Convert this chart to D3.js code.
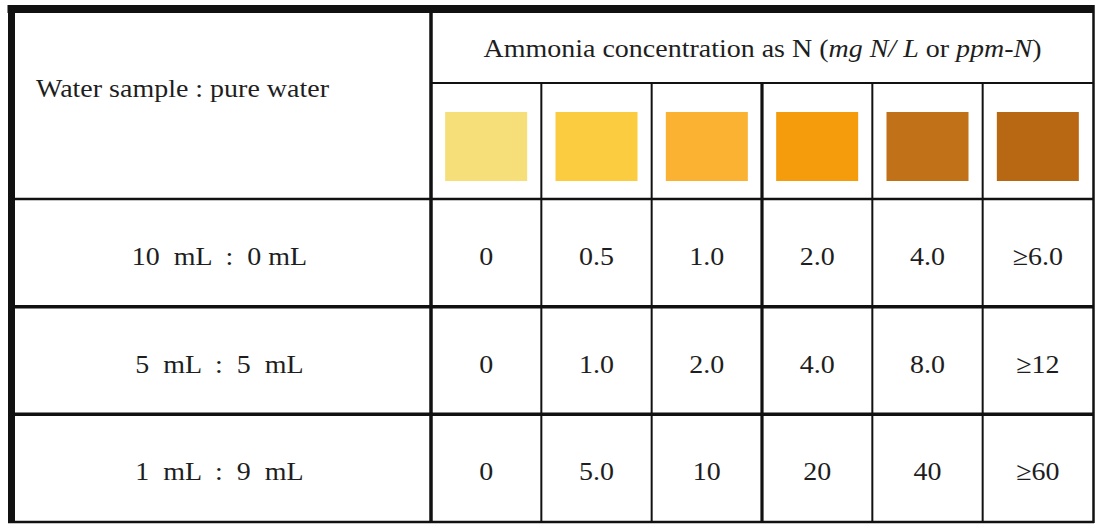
<!DOCTYPE html>
<html>
<head>
<meta charset="utf-8">
<script src="https://cdn.jsdelivr.net/npm/d3@7"></script>
<style>
  html, body { margin: 0; padding: 0; background: #fff; }
  svg { display: block; }
  text { font-family: "Liberation Serif", "Times New Roman", serif; fill: #1e1e1e; white-space: pre; }
</style>
</head>
<body>
<div id="chart"></div>
<script>
// ---- data ----
const cornerLabel = "Water sample : pure water";
const headerParts = [
  { t: "Ammonia concentration as N (", i: false },
  { t: "mg N/ L", i: true },
  { t: " or ", i: false },
  { t: "ppm-N", i: true },
  { t: ")", i: false }
];
const swatchColors = ["#F6DE78", "#FBCB40", "#FBB232", "#F49C0C", "#C17117", "#B86812"];
const sampleRatios = ["10  mL  :  0 mL", "5  mL  :  5  mL", "1  mL  :  9  mL"];
const row1Values = ["0", "0.5", "1.0", "2.0", "4.0", "\u22656.0"];
const row2Values = ["0", "1.0", "2.0", "4.0", "8.0", "\u226512"];
const row3Values = ["0", "5.0", "10", "20", "40", "\u226560"];
const rowValues = [row1Values, row2Values, row3Values];

// ---- layout ----
const W = 1095, H = 524;
const gLeft = 8, gRight = 1094, gTop = 5, gBottom = 523;
const splitX = 431;          // boundary between label column and value columns
const headerY = 83, swatchRowY = 199;
const fs = 26, sx = 1.077;   // font size and horizontal stretch of the source image

const svg = d3.select("#chart").append("svg").attr("width", W).attr("height", H);

const x = d3.scaleBand().domain(d3.range(swatchColors.length)).range([splitX, gRight - 1]);
const y = d3.scaleBand().domain(d3.range(sampleRatios.length)).range([swatchRowY, gBottom - 1]);

// swatches
const swY = d3.scaleLinear().domain([0, 1]).range([headerY, swatchRowY]);
svg.append("g").selectAll("rect").data(swatchColors).join("rect")
  .attr("x", (d, i) => x(i) + x.bandwidth() / 2 - 41)
  .attr("width", 82)
  .attr("y", swY(0.25))
  .attr("height", 69)
  .attr("fill", d => d);

// text helper
function label(g, str, tx, ty, anchor) {
  return g.append("text")
    .attr("transform", `translate(${tx},${ty}) scale(${sx},1)`)
    .attr("text-anchor", anchor)
    .attr("font-size", fs)
    .text(str);
}

const tg = svg.append("g");
label(tg, cornerLabel, 36, 97, "start");

const head = tg.append("text")
  .attr("transform", `translate(${(splitX + gRight) / 2},57) scale(${sx},1)`)
  .attr("text-anchor", "middle")
  .attr("font-size", fs);
head.selectAll("tspan").data(headerParts).join("tspan")
  .attr("font-style", d => d.i ? "italic" : "normal")
  .text(d => d.t);

// row labels
sampleRatios.forEach((s, r) => {
  label(tg, s, (gLeft + splitX) / 2, y(r) + y.bandwidth() / 2 + 12, "middle");
});

// values
rowValues.forEach((vals, r) => {
  vals.forEach((v, c) => {
    label(tg, v, x(c) + x.bandwidth() / 2, y(r) + y.bandwidth() / 2 + 12, "middle");
  });
});

// ---- grid lines ----
const lg = svg.append("g").attr("stroke", "#111");
function line(x1, y1, x2, y2, w) {
  lg.append("line").attr("x1", x1).attr("y1", y1).attr("x2", x2).attr("y2", y2).attr("stroke-width", w);
}
// horizontal
line(splitX, headerY, gRight, headerY, 2);
line(gLeft, swatchRowY, gRight, swatchRowY, 2.5);
y.domain().slice(1).forEach(r => line(gLeft, y(r), gRight, y(r), 3.5));
line(gLeft, gBottom - 1, gRight, gBottom - 1, 2.5);
// vertical value column separators
x.domain().slice(1).forEach(c => line(x(c), headerY, x(c), gBottom, c === 3 ? 3.2 : 2));
line(splitX, gTop, splitX, gBottom, 3.5);
line(gRight - 0.5, gTop, gRight - 0.5, gBottom, 2.5);
// thick outer top & left
line(gLeft - 0.5, 9, gRight, 9, 8);
line(11.5, gTop, 11.5, gBottom, 7);
</script>
</body>
</html>
